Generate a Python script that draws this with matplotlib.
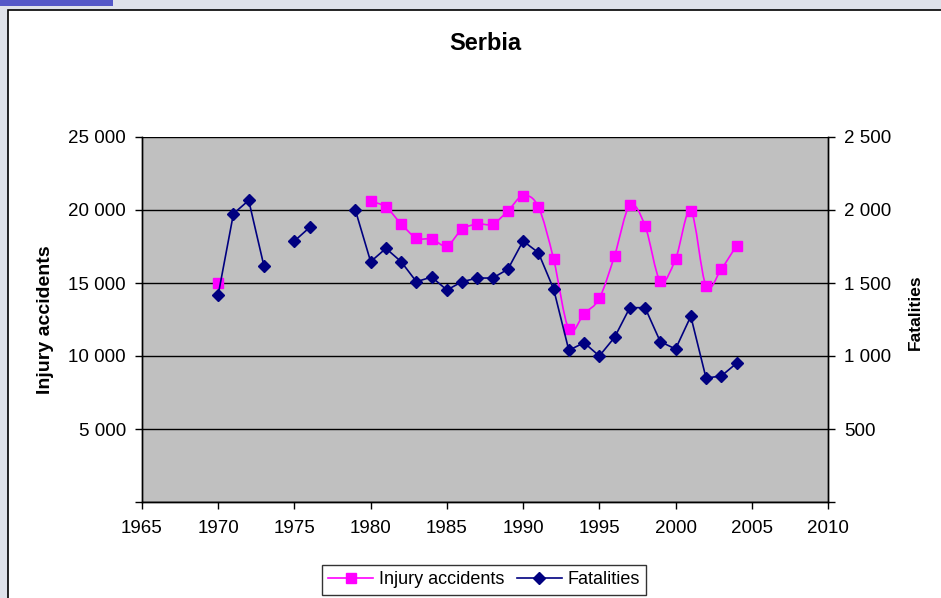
import matplotlib
matplotlib.use("Agg")
import matplotlib.pyplot as plt
import numpy as np
from matplotlib.path import Path
from matplotlib.patches import PathPatch, Rectangle
from matplotlib.lines import Line2D
from matplotlib.ticker import FuncFormatter

plt.rcParams["font.family"] = ["Liberation Sans", "DejaVu Sans"]

# valores
anos_acidentes = [1970, 1980, 1981, 1982, 1983, 1984, 1985, 1986, 1987, 1988,
                  1989, 1990, 1991, 1992, 1993, 1994, 1995, 1996, 1997, 1998,
                  1999, 2000, 2001, 2002, 2003, 2004]
acidentes = [15000, 20600, 20200, 19050, 18080, 18010, 17550, 18680, 19040, 19040,
             19930, 20980, 20220, 16640, 11830, 12900, 13950, 16870, 20320, 18920,
             15140, 16640, 19950, 14800, 15960, 17560]

anos_mortes = [1970, 1971, 1972, 1973, 1974, 1975, 1976, 1977, 1978, 1979,
               1980, 1981, 1982, 1983, 1984, 1985, 1986, 1987, 1988, 1989,
               1990, 1991, 1992, 1993, 1994, 1995, 1996, 1997, 1998, 1999,
               2000, 2001, 2002, 2003, 2004]
mortes = [1420, 1975, 2066, 1616, np.nan, 1788, 1881, np.nan, np.nan, 1998,
          1646, 1737, 1646, 1509, 1541, 1452, 1509, 1534, 1534, 1594,
          1788, 1708, 1459, 1039, 1091, 1000, 1128, 1331, 1331, 1098,
          1048, 1272, 849, 863, 950]

rosa = "#ff00ff"
azul = "#000080"

fig = plt.figure(figsize=(9.41, 5.98), dpi=100, facecolor="#dfe2ea")
# moldura branca da janela (atras dos eixos)
fig.patches.append(Rectangle((8 / 941, -0.01), 1.0, 1 - 10 / 598 + 0.01,
                             transform=fig.transFigure, facecolor="white",
                             edgecolor="black", linewidth=1.2, zorder=-5))
fig.patches.append(Rectangle((0, 1 - 6 / 598), 113 / 941, 6 / 598,
                             transform=fig.transFigure, facecolor="#5558c8",
                             edgecolor="none", zorder=-5))

ax = fig.add_axes([142 / 941, 1 - 502 / 598, 686 / 941, 365 / 598])
ax.set_facecolor("#c0c0c0")
ax2 = ax.twinx()

# linha suavizada (estilo Excel) para acidentes, a partir de 1980
x = np.array(anos_acidentes[1:], dtype=float)
y = np.array(acidentes[1:], dtype=float)
verts = [(x[0], y[0])]
codes = [Path.MOVETO]
for i in range(len(x) - 1):
    x0, y0 = (x[i - 1], y[i - 1]) if i > 0 else (x[i], y[i])
    x3, y3 = (x[i + 2], y[i + 2]) if i + 2 < len(x) else (x[i + 1], y[i + 1])
    c1 = (x[i] + (x[i + 1] - x0) / 6, y[i] + (y[i + 1] - y0) / 6)
    c2 = (x[i + 1] - (x3 - x[i]) / 6, y[i + 1] - (y3 - y[i]) / 6)
    verts += [c1, c2, (x[i + 1], y[i + 1])]
    codes += [Path.CURVE4] * 3
ax.add_patch(PathPatch(Path(verts, codes), facecolor="none", edgecolor=rosa,
                       linewidth=1.2, transform=ax.transData, zorder=2))
ax.plot(anos_acidentes, acidentes, linestyle="none", marker="s", markersize=7,
        color=rosa, zorder=3)

ax2.plot(anos_mortes, mortes, color=azul, linewidth=1.2, marker="D",
         markersize=6, zorder=3)

ax.set_xlim(1965, 2010)
ax.set_ylim(0, 25000)
ax2.set_ylim(0, 2500)
ax.set_xticks(range(1965, 2011, 5))
ax.set_yticks(range(0, 25001, 5000))
ax2.set_yticks(range(0, 2501, 500))

fmt = FuncFormatter(lambda v, p: "" if v == 0 else f"{int(v):,}".replace(",", " "))
ax.yaxis.set_major_formatter(fmt)
ax2.yaxis.set_major_formatter(fmt)

ax.grid(axis="y", color="black", linewidth=1.0)
ax.set_axisbelow(True)
for a in (ax, ax2):
    a.spines["top"].set_visible(False)
    for s in ("left", "right", "bottom"):
        a.spines[s].set_color("black")
        a.spines[s].set_linewidth(1.0)
    a.tick_params(labelsize=13.5, length=5, width=1, colors="black", pad=6.5)
ax.tick_params(axis="x", pad=8)

ax.set_ylabel("Injury accidents", fontsize=14, fontweight="bold")
ax.yaxis.set_label_coords(-0.128, 0.5)
ax2.set_ylabel("Fatalities", fontsize=12.5, fontweight="bold")
ax2.yaxis.set_label_coords(1.117, 0.52)

fig.text(485 / 941, 1 - 44 / 598, "Serbia", fontsize=17, fontweight="bold",
         ha="center", va="center")

handles = [Line2D([], [], color=rosa, marker="s", markersize=7, linewidth=1.2),
           Line2D([], [], color=azul, marker="D", markersize=6, linewidth=1.2)]
leg = fig.legend(handles, ["Injury accidents", "Fatalities"], ncol=2,
                 loc="center", bbox_to_anchor=(484 / 941, 1 - 580 / 598),
                 fontsize=13, frameon=True, fancybox=False, edgecolor="black",
                 handlelength=2.5, handletextpad=0.3, columnspacing=0.7,
                 borderpad=0.35)
leg.get_frame().set_linewidth(1.0)

fig.savefig("out.png", dpi=100, facecolor=fig.get_facecolor())
